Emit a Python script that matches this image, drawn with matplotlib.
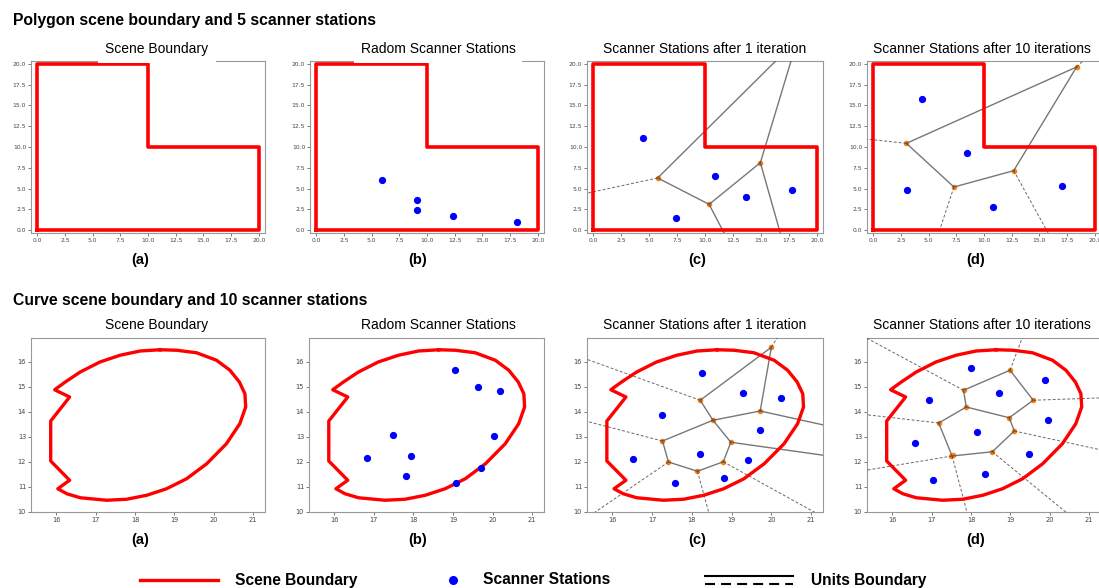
import numpy as np
import matplotlib
matplotlib.use("Agg")
import matplotlib.pyplot as plt
from matplotlib.lines import Line2D

W, H = 1099, 588

# ---- polygon scene (top row) ----
poly_x = [0, 20, 20, 10, 10, 0, 0]
poly_y = [0, 0, 10, 10, 20, 20, 0]

# random stations
poly_b_x = [5.9, 9.09, 9.09, 12.34, 18.15]
poly_b_y = [6.02, 3.57, 2.37, 1.65, 0.96]

# after 1 iteration
poly_c_x = [4.48, 7.44, 10.85, 13.63, 17.76]
poly_c_y = [11.04, 1.49, 6.55, 3.94, 4.78]
poly_c_vx = [5.77, 10.37, 14.95]
poly_c_vy = [6.27, 3.09, 8.11]
poly_c_solid = [
    [(5.77, 6.27), (10.37, 3.09)],
    [(10.37, 3.09), (14.95, 8.11)],
    [(5.77, 6.27), (16.35, 20.4)],
    [(14.95, 8.11), (17.7, 20.4)],
    [(10.37, 3.09), (11.72, -0.4)],
    [(14.95, 8.11), (16.74, -0.4)],
]
poly_c_dash = [
    [(5.77, 6.27), (-0.6, 4.42)],
]

# after 10 iterations
poly_d_x = [4.41, 8.46, 3.06, 10.85, 17.03]
poly_d_y = [15.78, 9.24, 4.82, 2.81, 5.34]
poly_d_vx = [3.0, 7.29, 12.68, 18.35]
poly_d_vy = [10.44, 5.18, 7.15, 19.64]
poly_d_solid = [
    [(3.0, 10.44), (7.29, 5.18)],
    [(7.29, 5.18), (12.68, 7.15)],
    [(12.68, 7.15), (18.35, 19.64)],
    [(3.0, 10.44), (18.35, 19.64)],
]
poly_d_dash = [
    [(3.0, 10.44), (-0.6, 10.96)],
    [(18.35, 19.64), (18.95, 20.4)],
    [(7.29, 5.18), (5.9, -0.4)],
    [(12.68, 7.15), (15.8, -0.4)],
]

# ---- curve scene (bottom row) ----
curve_x = [18.64, 18.13, 17.62, 17.11, 16.61, 16.23, 15.96, 16.34, 15.86, 15.86,
           16.34, 16.04, 16.27, 16.61, 17.28, 17.79, 18.30, 18.80, 19.31, 19.82,
           20.32, 20.66, 20.81, 20.79, 20.65, 20.41, 20.07, 19.56, 19.06, 18.64]
curve_y = [16.49, 16.44, 16.27, 16.0, 15.6, 15.2, 14.89, 14.6, 13.64, 12.04,
           11.27, 10.93, 10.73, 10.57, 10.47, 10.51, 10.67, 10.93, 11.33, 11.93,
           12.73, 13.53, 14.2, 14.73, 15.2, 15.67, 16.07, 16.37, 16.47, 16.49]

curve_b_x = [19.04, 19.63, 20.18, 20.03, 17.48, 16.83, 17.93, 17.82, 19.72, 19.08]
curve_b_y = [15.67, 15.0, 14.84, 13.03, 13.09, 12.16, 12.24, 11.44, 11.75, 11.17]

curve_c_x = [18.26, 19.28, 20.25, 17.25, 19.72, 16.51, 18.2, 19.41, 17.58, 18.82]
curve_c_y = [15.55, 14.75, 14.57, 13.89, 13.27, 12.12, 12.33, 12.08, 11.15, 11.35]
curve_c_vx = [20.0, 18.21, 19.72, 18.53, 17.26, 18.98, 17.41, 18.79, 18.14]
curve_c_vy = [16.59, 14.47, 14.04, 13.67, 12.84, 12.79, 12.0, 12.01, 11.63]
curve_c_solid = [
    [(18.21, 14.47), (20.0, 16.59)],
    [(20.0, 16.59), (19.72, 14.04)],
    [(18.21, 14.47), (18.53, 13.67)],
    [(18.53, 13.67), (19.72, 14.04)],
    [(18.53, 13.67), (17.26, 12.84)],
    [(18.53, 13.67), (18.98, 12.79)],
    [(17.26, 12.84), (17.41, 12.0)],
    [(17.41, 12.0), (18.14, 11.63)],
    [(18.14, 11.63), (18.79, 12.01)],
    [(18.79, 12.01), (18.98, 12.79)],
    [(19.72, 14.04), (21.4, 13.45)],
    [(18.98, 12.79), (21.4, 12.25)],
]
curve_c_dash = [
    [(20.0, 16.59), (20.16, 17.0)],
    [(18.21, 14.47), (15.3, 16.14)],
    [(17.26, 12.84), (15.3, 13.65)],
    [(17.41, 12.0), (15.55, 9.98)],
    [(18.14, 11.63), (18.43, 9.95)],
    [(18.79, 12.01), (21.1, 9.98)],
]

curve_d_x = [18.01, 19.88, 18.71, 16.93, 19.95, 18.14, 16.59, 19.47, 18.36, 17.04]
curve_d_y = [15.76, 15.29, 14.75, 14.49, 13.69, 13.21, 12.75, 12.32, 11.51, 11.27]
curve_d_vx = [18.99, 17.81, 19.58, 17.88, 18.97, 17.18, 19.1, 18.54, 17.55, 17.5]
curve_d_vy = [15.67, 14.87, 14.47, 14.2, 13.77, 13.56, 13.24, 12.41, 12.28, 12.23]
curve_d_solid = [
    [(17.81, 14.87), (18.99, 15.67)],
    [(18.99, 15.67), (19.58, 14.47)],
    [(17.81, 14.87), (17.88, 14.2)],
    [(17.88, 14.2), (18.97, 13.77)],
    [(18.97, 13.77), (19.58, 14.47)],
    [(18.97, 13.77), (19.1, 13.24)],
    [(17.88, 14.2), (17.18, 13.56)],
    [(17.18, 13.56), (17.52, 12.24)],
    [(17.52, 12.24), (18.54, 12.41)],
    [(18.54, 12.41), (19.1, 13.24)],
]
curve_d_dash = [
    [(18.99, 15.67), (19.31, 17.0)],
    [(17.81, 14.87), (15.3, 17.0)],
    [(19.58, 14.47), (21.4, 14.57)],
    [(17.18, 13.56), (15.3, 13.9)],
    [(19.1, 13.24), (21.4, 12.45)],
    [(17.52, 12.24), (15.3, 11.66)],
    [(17.52, 12.24), (17.9, 9.98)],
    [(18.54, 12.41), (20.42, 9.98)],
]

titles = ["Scene Boundary", "Radom Scanner Stations",
          "Scanner Stations after 1 iteration", "Scanner Stations after 10 iterations"]
letters = ["(a)", "(b)", "(c)", "(d)"]
top_ticks = [0, 2.5, 5, 7.5, 10, 12.5, 15, 17.5, 20]
bot_xticks = [16, 17, 18, 19, 20, 21]
bot_yticks = [10, 11, 12, 13, 14, 15, 16]

SANS = ["Liberation Sans", "DejaVu Sans"]

fig = plt.figure(figsize=(W / 100, H / 100), dpi=100)


def add_ax(x0, x1, ytop, ybot):
    return fig.add_axes([x0 / W, 1 - ybot / H, (x1 - x0) / W, (ybot - ytop) / H])


def style(ax, size):
    for s in ax.spines.values():
        s.set_color("#999999")
        s.set_linewidth(0.8)
    ax.tick_params(labelsize=size, colors="#444444", length=2, width=0.5, pad=1.5)


def draw_vor(ax, vx, vy, solid, dash):
    for seg in solid:
        xs, ys = zip(*seg)
        ax.plot(xs, ys, color="#555555", lw=1.0, alpha=0.8, zorder=3)
    for seg in dash:
        xs, ys = zip(*seg)
        ax.plot(xs, ys, color="#444444", lw=0.7, ls=(0, (3, 2)), alpha=0.8, zorder=3)
    ax.plot(vx, vy, "o", color="#ff7f0e", ms=3, zorder=2)


xs_top = [(31, 265), (310, 544), (587, 823), (867, 1101)]
xs_bot = [(31, 265), (309, 544), (587, 823), (867, 1101)]
title_x = [157, 438, 705, 982]
letter_x = [140, 418, 697, 976]

top_pts = [None, (poly_b_x, poly_b_y), (poly_c_x, poly_c_y), (poly_d_x, poly_d_y)]
top_vor = [None, None,
           (poly_c_vx, poly_c_vy, poly_c_solid, poly_c_dash),
           (poly_d_vx, poly_d_vy, poly_d_solid, poly_d_dash)]
bot_pts = [None, (curve_b_x, curve_b_y), (curve_c_x, curve_c_y), (curve_d_x, curve_d_y)]
bot_vor = [None, None,
           (curve_c_vx, curve_c_vy, curve_c_solid, curve_c_dash),
           (curve_d_vx, curve_d_vy, curve_d_solid, curve_d_dash)]

for i in range(4):
    # top row
    ax = add_ax(xs_top[i][0], xs_top[i][1], 61, 233)
    style(ax, 4.3)
    ax.plot(poly_x, poly_y, color="red", lw=2.6, zorder=4)
    if top_vor[i]:
        draw_vor(ax, *top_vor[i])
    if top_pts[i]:
        ax.plot(top_pts[i][0], top_pts[i][1], "o", color="blue", ms=4.2, zorder=5)
    ax.set_xlim(-0.55, 20.55)
    ax.set_ylim(-0.36, 20.36)
    ax.set_xticks(top_ticks)
    ax.set_yticks(top_ticks)

    # bottom row
    ax = add_ax(xs_bot[i][0], xs_bot[i][1], 338, 512)
    style(ax, 4.8)
    ax.plot(curve_x, curve_y, color="red", lw=2.4, zorder=4)
    if bot_vor[i]:
        draw_vor(ax, *bot_vor[i])
    if bot_pts[i]:
        ax.plot(bot_pts[i][0], bot_pts[i][1], "o", color="blue", ms=4.2, zorder=5)
    ax.set_xlim(15.36, 21.3)
    ax.set_ylim(10, 16.96)
    ax.set_xticks(bot_xticks)
    ax.set_yticks(bot_yticks)

    # titles (top-row a/b titles sit on a white patch hiding the frame top)
    box = dict(facecolor="white", edgecolor="none", pad=5 if i < 2 else 1)
    fig.text(title_x[i] / W, 1 - 49 / H, titles[i], family=SANS, fontsize=10,
             ha="center", va="center", bbox=box)
    fig.text(title_x[i] / W, 1 - 325 / H, titles[i], family=SANS, fontsize=10,
             ha="center", va="center")
    for ly in (260, 540):
        fig.text(letter_x[i] / W, 1 - ly / H, letters[i], family=SANS, fontsize=10.5,
                 fontweight="bold", ha="center", va="center")

fig.text(13 / W, 1 - 20 / H, "Polygon scene boundary and 5 scanner stations",
         family=SANS, fontsize=11.3, fontweight="bold", ha="left", va="center")
fig.text(13 / W, 1 - 300 / H, "Curve scene boundary and 10 scanner stations",
         family=SANS, fontsize=11.3, fontweight="bold", ha="left", va="center")

# legend row
ly = 1 - 580 / H
fig.add_artist(Line2D([140 / W, 218 / W], [ly, ly], color="red", lw=2.4))
fig.text(235 / W, ly, "Scene Boundary", family=SANS, fontsize=11.2,
         fontweight="bold", va="center")
fig.add_artist(Line2D([453 / W], [ly], marker="o", color="blue", ms=5.5, ls="none"))
fig.text(483 / W, ly, "Scanner Stations", family=SANS, fontsize=11.2,
         fontweight="bold", va="center")
fig.add_artist(Line2D([705 / W, 793 / W], [1 - 576 / H, 1 - 576 / H], color="black", lw=1.5))
fig.add_artist(Line2D([705 / W, 793 / W], [1 - 584 / H, 1 - 584 / H], color="black",
                      lw=1.5, ls=(0, (4.8, 2.9))))
fig.text(811 / W, ly, "Units Boundary", family=SANS, fontsize=11.2,
         fontweight="bold", va="center")

fig.savefig("out.png", dpi=100)
